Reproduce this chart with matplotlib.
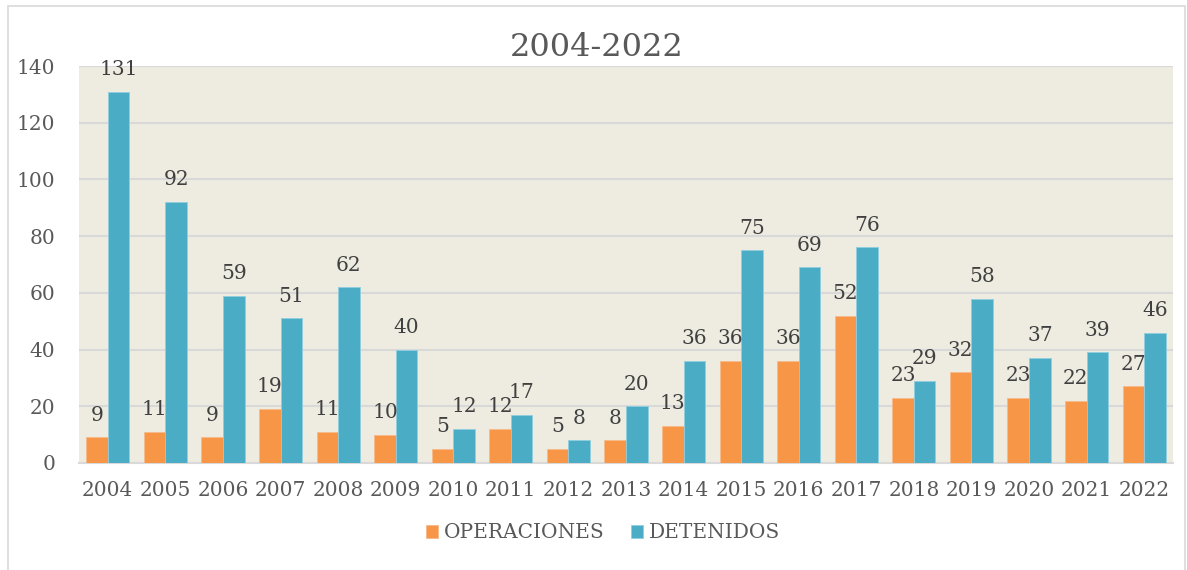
import matplotlib.pyplot as plt
import numpy as np
from matplotlib.patches import Rectangle

years = ['2004', '2005', '2006', '2007', '2008', '2009', '2010', '2011', '2012', '2013',
         '2014', '2015', '2016', '2017', '2018', '2019', '2020', '2021', '2022']
operaciones = [9, 11, 9, 19, 11, 10, 5, 12, 5, 8, 13, 36, 36, 52, 23, 32, 23, 22, 27]
detenidos = [131, 92, 59, 51, 62, 40, 12, 17, 8, 20, 36, 75, 69, 76, 29, 58, 37, 39, 46]

plt.rcParams['font.family'] = ['DejaVu Serif']
txt = '#595959'

fig = plt.figure(figsize=(11.87, 5.70), dpi=100)
ax = fig.add_axes([79 / 1187, 1 - 463 / 570, (1173 - 79) / 1187, (463 - 66) / 570])

# marco exterior
fig.patches.append(Rectangle((8 / 1187, -0.05), (1185 - 8) / 1187, 1 - 6 / 570 + 0.05,
                             transform=fig.transFigure, fill=False,
                             edgecolor='#D9D9D9', linewidth=1.2))

x = np.arange(len(years))
w = 0.375
b1 = ax.bar(x - w / 2, operaciones, w, color='#F79646', edgecolor='#F9B98A',
            linewidth=0.6, label='OPERACIONES', zorder=3)
b2 = ax.bar(x + w / 2, detenidos, w, color='#4BACC6', edgecolor='#8FCFE0',
            linewidth=0.6, label='DETENIDOS', zorder=3)

for bars, vals in ((b1, operaciones), (b2, detenidos)):
    for r, v in zip(bars, vals):
        ax.annotate(str(v), (r.get_x() + r.get_width() / 2, v), xytext=(0, 12),
                    textcoords='offset points', ha='center', va='baseline',
                    fontsize=14.5, color='#404040', zorder=4)

ax.set_facecolor('#EEECE1')
ax.set_xlim(-0.5, len(years) - 0.5)
ax.set_ylim(0, 140)
ax.set_yticks(range(0, 141, 20))
ax.set_xticks(x)
ax.set_xticklabels(years)
ax.yaxis.grid(True, color='#D9D9D9', linewidth=1.5, zorder=0)
ax.set_axisbelow(True)
for s in ['top', 'right', 'left']:
    ax.spines[s].set_visible(False)
ax.spines['bottom'].set_color('#D9D9D9')
ax.spines['bottom'].set_linewidth(1.5)
ax.tick_params(axis='both', length=0, labelsize=14.5, labelcolor=txt)
ax.tick_params(axis='y', pad=17)
ax.tick_params(axis='x', pad=13)

fig.text(597 / 1187, 1 - 48 / 570, '2004-2022', ha='center', va='center',
         fontsize=23, color=txt)

fig.legend(loc='center', bbox_to_anchor=(603 / 1187, 1 - 533 / 570), ncol=2,
           frameon=False, fontsize=14.5, labelcolor=txt, handlelength=0.6,
           handleheight=0.6, handletextpad=0.3, columnspacing=1.3)

fig.savefig('out.png', dpi=100)
